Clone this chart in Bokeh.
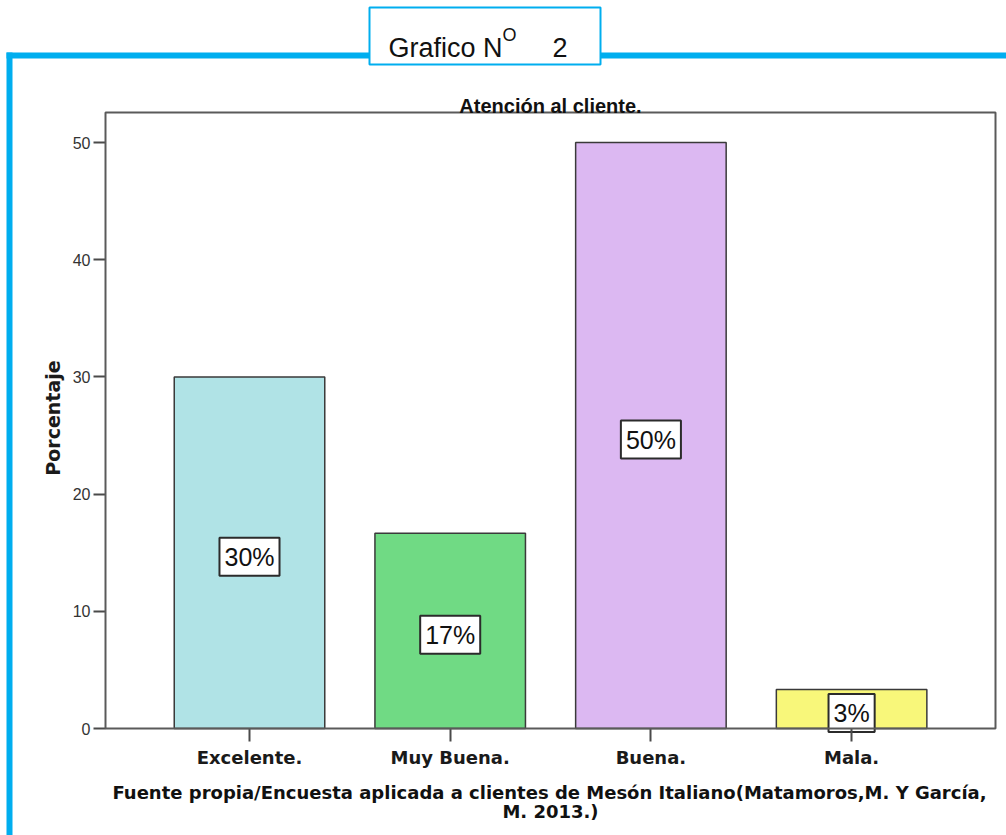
from bokeh.plotting import figure
from bokeh.models import Range1d, FixedTicker, BoxAnnotation, Label, ColumnDataSource
from bokeh.core.properties import value
from bokeh.embed import file_html
from bokeh.resources import INLINE

# ---- data ----
categorias = ["Excelente.", "Muy Buena.", "Buena.", "Mala."]
porcentajes = [30.0, 16.67, 50.0, 3.33]
etiquetas = ["30%", "17%", "50%", "3%"]
colores = ["#B0E3E6", "#70DA84", "#DCB8F2", "#F8F77A"]
ticks_y = [0, 10, 20, 30, 40, 50]
titulo = "Atención al cliente."
eje_y = "Porcentaje"
fuente_1 = "Fuente propia/Encuesta aplicada a clientes de Mesón Italiano(Matamoros,M. Y García,"
fuente_2 = "M. 2013.)"
encabezado = ["Grafico N", "O", "2"]

# ---- geometry (pixels of the 1006x835 page) ----
W, H = 1006, 835
PX0, DX = 249.0, 200.7      # pixel of first category centre, pixels per category
PY0, DY = 728.0, 11.72      # pixel of value 0, pixels per percentage unit
PL, PR, PT = 105, 995, 112  # plot-area edges
AZUL = "#00AEEF"


def dx(px):
    return (px - PX0) / DX


def dy(py):
    return (PY0 - py) / DY


pos = list(range(len(categorias)))
src = ColumnDataSource(dict(
    x=pos, top=porcentajes, mid=[v / 2 for v in porcentajes],
    label=etiquetas, color=colores))

p = figure(width=W, height=H, output_backend="svg", toolbar_location=None,
           title=None,
           x_range=Range1d(dx(0), dx(W)), y_range=Range1d(dy(H), dy(0)),
           min_border=0)
p.background_fill_color = "white"
p.border_fill_color = "white"
p.outline_line_color = None
p.grid.visible = False

p.vbar(x="x", top="top", bottom=0, width=0.75, fill_color="color",
       line_color="#3a3a3a", line_width=1.5, source=src)

p.text(x="x", y="mid", text="label", source=src,
       text_font=value("Liberation Sans"), text_font_size="25px",
       text_align="center", text_baseline="middle", y_offset=4,
       text_color="#111111",
       background_fill_color="white", border_line_color="#2b2b2b",
       border_line_width=2, padding=5)

# plot-area frame
p.add_layout(BoxAnnotation(left=dx(PL), right=dx(PR), bottom=0, top=dy(PT),
                           fill_alpha=0, line_color="#5a5a5a", line_width=2,
                           line_alpha=1))

# axes (fixed at the plot-area edges)
xa = p.xaxis[0]
xa.fixed_location = 0
xa.ticker = FixedTicker(ticks=pos)
xa.major_label_overrides = {i: c for i, c in enumerate(categorias)}
xa.minor_tick_line_color = None
xa.axis_line_color = None
xa.major_tick_out = 13
xa.major_tick_in = 0
xa.major_label_standoff = 5
xa.major_tick_line_color = "#4a4a4a"
xa.major_tick_line_width = 2
xa.major_label_text_font = "DejaVu Sans"
xa.major_label_text_font_style = "bold"
xa.major_label_text_font_size = "18px"
xa.major_label_text_color = "#1a1a1a"

ya = p.yaxis[0]
ya.fixed_location = dx(PL)
ya.ticker = FixedTicker(ticks=ticks_y)
ya.minor_tick_line_color = None
ya.axis_line_color = None
ya.major_tick_out = 12
ya.major_tick_in = 0
ya.major_label_standoff = 3
ya.major_tick_line_color = "#4a4a4a"
ya.major_tick_line_width = 2
ya.major_label_text_font = "Liberation Sans"
ya.major_label_text_font_size = "16px"
ya.major_label_text_color = "#333333"
ya.axis_label = eje_y
ya.axis_label_text_font = "DejaVu Sans"
ya.axis_label_text_font_style = "bold"
ya.axis_label_text_font_size = "19px"
ya.axis_label_text_color = "#1a1a1a"
ya.axis_label_standoff = 6


def caja(l, r, t, b, **kw):
    return BoxAnnotation(left=l, right=r, top=H - t, bottom=H - b,
                         left_units="screen", right_units="screen",
                         top_units="screen", bottom_units="screen", **kw)


def texto(x, y, t, **kw):
    return Label(x=x, y=H - y, x_units="screen", y_units="screen", text=t, **kw)


# blue L frame
p.add_layout(caja(6, W, 52, 58, fill_color=AZUL, fill_alpha=1, line_color=None))
p.add_layout(caja(6, 12, 52, H, fill_color=AZUL, fill_alpha=1, line_color=None))
# header box
p.add_layout(caja(369, 600, 7, 64, fill_color="white", fill_alpha=1,
                  line_color=AZUL, line_width=2, line_alpha=1))
p.add_layout(texto(388, 47, encabezado[0], text_font="Liberation Sans",
                   text_font_size="27px", text_color="#111111",
                   text_baseline="alphabetic", text_align="left"))
p.add_layout(texto(502, 34, encabezado[1], text_font="Liberation Sans",
                   text_font_size="18px", text_color="#111111",
                   text_baseline="alphabetic", text_align="left"))
p.add_layout(texto(552, 47, encabezado[2], text_font="Liberation Sans",
                   text_font_size="27px", text_color="#111111",
                   text_baseline="alphabetic", text_align="left"))

# chart title
p.add_layout(texto(550, 105, titulo, text_font="Liberation Sans",
                   text_font_style="bold", text_font_size="20px",
                   text_color="#111111", text_baseline="alphabetic",
                   text_align="center"))
# footnote
p.add_layout(texto(549, 792, fuente_1, text_font="DejaVu Sans",
                   text_font_style="bold", text_font_size="18px",
                   text_color="#111111", text_baseline="alphabetic",
                   text_align="center"))
p.add_layout(texto(550, 811, fuente_2, text_font="DejaVu Sans",
                   text_font_style="bold", text_font_size="18px",
                   text_color="#111111", text_baseline="alphabetic",
                   text_align="center"))

open("out.html", "w").write(file_html(p, INLINE))
